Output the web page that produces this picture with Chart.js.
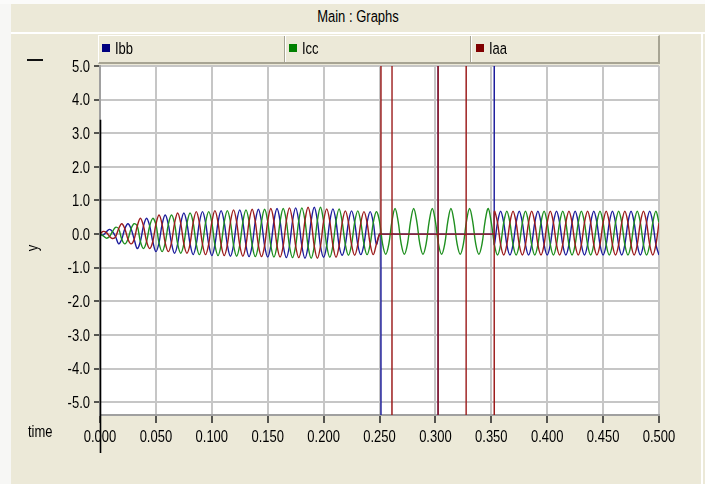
<!DOCTYPE html>
<html>
<head>
<meta charset="utf-8">
<script src="https://cdn.jsdelivr.net/npm/chart.js@4.4.1/dist/chart.umd.min.js"></script>
<style>
  body { margin: 0; background: #ece9d8; }
  #frame { position: relative; width: 705px; height: 484px; overflow: hidden; background: #ece9d8;
    font-family: "Liberation Sans", Arial, sans-serif; color: #000; }
  #frame div { position: absolute; }
  canvas { position: absolute; left: 0; top: 0; }
  .tall { transform: scaleY(1.3); transform-origin: 50% 50%; }
  .strip { left: 0; top: 0; width: 11px; height: 484px; background: #f7f7f5; }
  .topline { left: 0; top: 0; width: 705px; height: 4px; background: #fbfbfa; }
  .titlebar { left: 11px; top: 4px; width: 694px; height: 28px; border-bottom: 2px solid #fff; }
  .titletext { left: 0; top: 5px; width: 694px; text-align: center; font-size: 13px; line-height: 16px; }
  .rightline { left: 701px; top: 34px; width: 2px; height: 450px; background: #fff; }
  .legend { left: 98px; top: 35px; width: 559px; height: 26px; border-top: 1px solid #fff;
    border-left: 1px solid #fff; border-right: 2px solid #a7a493; border-bottom: 2px solid #a7a493; }
  .sep { top: 0; width: 1px; height: 26px; background: #a7a493; border-right: 1px solid #fff; }
  .sq { top: 8px; width: 8px; height: 8px; }
  .lab { top: 5px; font-size: 13px; line-height: 16px; }
  .dash { left: 27px; top: 59px; width: 16px; height: 2px; background: #111; }
  .time { left: 28px; top: 424px; font-size: 13px; line-height: 16px; }
</style>
</head>
<body>
<div id="frame">
  <div class="strip"></div>
  <div class="topline"></div>
  <div class="titlebar"><div class="titletext tall">Main : Graphs</div></div>
  <div class="rightline"></div>
  <canvas id="graph" width="705" height="484"></canvas>
  <div class="legend">
    <div class="sq" style="left:3px;background:#00007f"></div><div class="lab tall" style="left:16px">Ibb</div>
    <div class="sep" style="left:185px"></div>
    <div class="sq" style="left:190px;background:#008000"></div><div class="lab tall" style="left:203px">Icc</div>
    <div class="sep" style="left:371px"></div>
    <div class="sq" style="left:377px;background:#800000"></div><div class="lab tall" style="left:390px">Iaa</div>
  </div>
  <div class="dash"></div>
  <div class="time tall">time</div>
</div>
<script>
// simulation step: 6 samples per 60 Hz cycle
const dt = 1 / 360;

const xTicks = [0, 0.05, 0.1, 0.15, 0.2, 0.25, 0.3, 0.35, 0.4, 0.45, 0.5];
const yTicks = [5, 4, 3, 2, 1, 0, -1, -2, -3, -4, -5];

// one line per cycle
const ibb = [
  0, -0.03, 0.06, 0.14, 0.08, -0.07,
  -0.29, -0.15, 0.16, 0.31, 0.16, -0.15,
  -0.43, -0.22, 0.24, 0.47, 0.24, -0.22,
  -0.52, -0.26, 0.29, 0.57, 0.29, -0.26,
  -0.57, -0.29, 0.32, 0.63, 0.32, -0.29,
  -0.61, -0.3, 0.34, 0.67, 0.34, -0.3,
  -0.64, -0.32, 0.35, 0.7, 0.35, -0.32,
  -0.66, -0.33, 0.36, 0.72, 0.36, -0.33,
  -0.67, -0.33, 0.37, 0.74, 0.37, -0.34,
  -0.68, -0.34, 0.38, 0.76, 0.38, -0.34,
  -0.7, -0.35, 0.39, 0.78, 0.39, -0.35,
  -0.72, -0.36, 0.4, 0.8, 0.4, -0.36,
  -0.69, -0.34, 0.38, 0.75, 0.38, -0.34,
  -0.63, -0.31, 0.35, 0.69, 0.35, -0.31,
  -0.61, -0.3, 0.34, 0.67, 0.34, -0.3,
  0, 0, 0, 0, 0, 0,
  0, 0, 0, 0, 0, 0,
  0, 0, 0, 0, 0, 0,
  0, 0, 0, 0, 0, 0,
  0, 0, 0, 0, 0, 0,
  0, 0, 0, 0, 0, 0,
  0, -0.31, 0.34, 0.68, 0.34, -0.31,
  -0.62, -0.31, 0.34, 0.68, 0.34, -0.31,
  -0.62, -0.31, 0.34, 0.68, 0.34, -0.31,
  -0.62, -0.31, 0.34, 0.68, 0.34, -0.31,
  -0.62, -0.31, 0.34, 0.68, 0.34, -0.31,
  -0.62, -0.31, 0.34, 0.68, 0.34, -0.31,
  -0.62, -0.31, 0.34, 0.68, 0.34, -0.31,
  -0.62, -0.31, 0.34, 0.68, 0.34, -0.31,
  -0.62, -0.31, 0.34, 0.68, 0.34, -0.31,
  -0.62
];

const icc = [
  0, -0.05, -0.12, -0.08, 0.07, 0.2,
  0.16, -0.15, -0.29, -0.15, 0.16, 0.31,
  0.24, -0.22, -0.43, -0.22, 0.24, 0.47,
  0.29, -0.26, -0.52, -0.26, 0.29, 0.57,
  0.32, -0.29, -0.57, -0.29, 0.32, 0.63,
  0.34, -0.3, -0.61, -0.3, 0.34, 0.67,
  0.35, -0.32, -0.64, -0.32, 0.35, 0.7,
  0.36, -0.33, -0.66, -0.33, 0.36, 0.72,
  0.37, -0.33, -0.67, -0.34, 0.37, 0.74,
  0.38, -0.34, -0.68, -0.34, 0.38, 0.76,
  0.39, -0.35, -0.7, -0.35, 0.39, 0.78,
  0.4, -0.36, -0.72, -0.36, 0.4, 0.8,
  0.38, -0.34, -0.69, -0.34, 0.38, 0.75,
  0.35, -0.31, -0.63, -0.31, 0.35, 0.69,
  0.34, -0.3, -0.61, -0.3, 0.34, 0.67,
  0.38, -0.3, -0.6, -0.3, 0.38, 0.76,
  0.38, -0.3, -0.6, -0.3, 0.38, 0.76,
  0.38, -0.3, -0.6, -0.3, 0.38, 0.76,
  0.38, -0.3, -0.6, -0.3, 0.38, 0.76,
  0.38, -0.3, -0.6, -0.3, 0.38, 0.76,
  0.38, -0.3, -0.6, -0.3, 0.38, 0.76,
  0.34, -0.31, -0.62, -0.31, 0.34, 0.68,
  0.34, -0.31, -0.62, -0.31, 0.34, 0.68,
  0.34, -0.31, -0.62, -0.31, 0.34, 0.68,
  0.34, -0.31, -0.62, -0.31, 0.34, 0.68,
  0.34, -0.31, -0.62, -0.31, 0.34, 0.68,
  0.34, -0.31, -0.62, -0.31, 0.34, 0.68,
  0.34, -0.31, -0.62, -0.31, 0.34, 0.68,
  0.34, -0.31, -0.62, -0.31, 0.34, 0.68,
  0.34, -0.31, -0.62, -0.31, 0.34, 0.68,
  0.34
];

const iaa = [
  0, 0.08, 0.05, -0.06, -0.13, -0.08,
  0.16, 0.31, 0.16, -0.15, -0.29, -0.15,
  0.24, 0.47, 0.24, -0.22, -0.43, -0.22,
  0.29, 0.57, 0.29, -0.26, -0.52, -0.26,
  0.32, 0.63, 0.32, -0.29, -0.57, -0.29,
  0.34, 0.67, 0.34, -0.3, -0.61, -0.3,
  0.35, 0.7, 0.35, -0.32, -0.64, -0.32,
  0.36, 0.72, 0.36, -0.33, -0.66, -0.33,
  0.37, 0.74, 0.37, -0.33, -0.67, -0.34,
  0.38, 0.76, 0.38, -0.34, -0.68, -0.34,
  0.39, 0.78, 0.39, -0.35, -0.7, -0.35,
  0.4, 0.8, 0.4, -0.36, -0.72, -0.36,
  0.38, 0.75, 0.38, -0.34, -0.69, -0.34,
  0.35, 0.69, 0.35, -0.31, -0.63, -0.31,
  0.34, 0.67, 0.34, -0.3, -0.61, -0.3,
  0, 0, 0, 0, 0, 0,
  0, 0, 0, 0, 0, 0,
  0, 0, 0, 0, 0, 0,
  0, 0, 0, 0, 0, 0,
  0, 0, 0, 0, 0, 0,
  0, 0, 0, 0, 0, 0,
  0, 0.68, 0.34, -0.31, -0.62, -0.31,
  0.34, 0.68, 0.34, -0.31, -0.62, -0.31,
  0.34, 0.68, 0.34, -0.31, -0.62, -0.31,
  0.34, 0.68, 0.34, -0.31, -0.62, -0.31,
  0.34, 0.68, 0.34, -0.31, -0.62, -0.31,
  0.34, 0.68, 0.34, -0.31, -0.62, -0.31,
  0.34, 0.68, 0.34, -0.31, -0.62, -0.31,
  0.34, 0.68, 0.34, -0.31, -0.62, -0.31,
  0.34, 0.68, 0.34, -0.31, -0.62, -0.31,
  0.34
];

// switching spikes: time, first swing, second swing (far off the plot)
const ibbSpikes = [[0.2513, -60, 0], [0.3024, -60, 60], [0.3526, 60, 0]];
const iaaSpikes = [[0.2513, 60, 0], [0.2612, 60, -60], [0.3024, 60, -60],
  [0.3275, 60, -60], [0.3526, -60, 0]];

// black marker at t = 0
const markerTop = 3.4;

const labelFont = '13px "Liberation Sans", Arial, sans-serif';

function series(values, spikes) {
  const pts = values.map((v, k) => ({ x: k * dt, y: v }));
  spikes.forEach(([t, a, b]) => {
    pts.push({ x: t, y: 0 }, { x: t, y: a }, { x: t, y: b }, { x: t, y: 0 });
  });
  return pts.sort((p, q) => p.x - q.x);
}

const plotBackground = {
  id: "plotBackground",
  beforeDraw(chart) {
    const { ctx, chartArea } = chart;
    ctx.save();
    ctx.fillStyle = "#ffffff";
    ctx.fillRect(chartArea.left, chartArea.top, chartArea.right - chartArea.left, chartArea.bottom - chartArea.top);
    ctx.restore();
  },
};

// text in the tall, narrow look of the original screen
function tallText(ctx, text, x, y, align, angle) {
  ctx.save();
  ctx.translate(x, y);
  if (angle) ctx.rotate(angle);
  ctx.scale(1, 1.3);
  ctx.textAlign = align;
  ctx.textBaseline = "middle";
  ctx.fillText(text, 0, 0);
  ctx.restore();
}

const tallLabels = {
  id: "tallLabels",
  afterDraw(chart) {
    const { ctx, chartArea, scales } = chart;
    ctx.save();
    ctx.font = labelFont;
    ctx.fillStyle = "#000";
    xTicks.forEach((v) => tallText(ctx, v.toFixed(3), scales.x.getPixelForValue(v), chartArea.bottom + 22, "center"));
    yTicks.forEach((v) => tallText(ctx, v.toFixed(1), chartArea.left - 10, scales.y.getPixelForValue(v) + 1, "right"));
    // axis name, a little below the zero line
    tallText(ctx, "y", 33, scales.y.getPixelForValue(0) + 14, "center", -Math.PI / 2);
    ctx.restore();
  },
};

const zeroMarker = {
  id: "zeroMarker",
  afterDraw(chart) {
    const { ctx, chartArea, scales } = chart;
    const x = Math.round(scales.x.getPixelForValue(0)) + 0.5;
    ctx.save();
    ctx.strokeStyle = "#000";
    ctx.lineWidth = 1.6;
    ctx.beginPath();
    ctx.moveTo(x, scales.y.getPixelForValue(markerTop));
    ctx.lineTo(x, chartArea.bottom + 38);
    ctx.stroke();
    ctx.restore();
  },
};

const graphCtx = document.getElementById("graph").getContext("2d");

new Chart(graphCtx, {
  type: "line",
  data: {
    datasets: [
      { label: "Ibb", data: series(ibb, ibbSpikes), borderColor: "#1c1c9c", order: 2 },
      { label: "Icc", data: series(icc, []), borderColor: "#1f8f1f", order: 1 },
      { label: "Iaa", data: series(iaa, iaaSpikes), borderColor: "#9c1c1c", order: 0 },
    ],
  },
  options: {
    responsive: false,
    animation: false,
    layout: { padding: { left: 0, top: 66, right: 46, bottom: 0 } },
    elements: {
      point: { radius: 0 },
      line: { borderWidth: 1.4, tension: 0.35 },
    },
    plugins: {
      legend: { display: false },
      tooltip: { enabled: false },
    },
    scales: {
      x: {
        type: "linear",
        min: 0,
        max: 0.5,
        afterBuildTicks: (s) => { s.ticks = xTicks.map((v) => ({ value: v })); },
        afterFit: (s) => { s.height = 69; },
        ticks: { display: false },
        grid: { color: "#c6c6c6", lineWidth: 2, tickColor: "#222", tickWidth: 1.5, tickLength: 8 },
        border: { color: "#a0a0a0", width: 2 },
      },
      y: {
        min: -5.38,
        max: 5,
        afterBuildTicks: (s) => { s.ticks = yTicks.map((v) => ({ value: v })); },
        afterFit: (s) => { s.width = 100; },
        ticks: { display: false },
        grid: { color: "#c6c6c6", lineWidth: 2, tickColor: "#222", tickWidth: 1.5, tickLength: 6 },
        border: { color: "#a0a0a0", width: 2 },
      },
    },
  },
  plugins: [plotBackground, tallLabels, zeroMarker],
});
</script>
</body>
</html>
